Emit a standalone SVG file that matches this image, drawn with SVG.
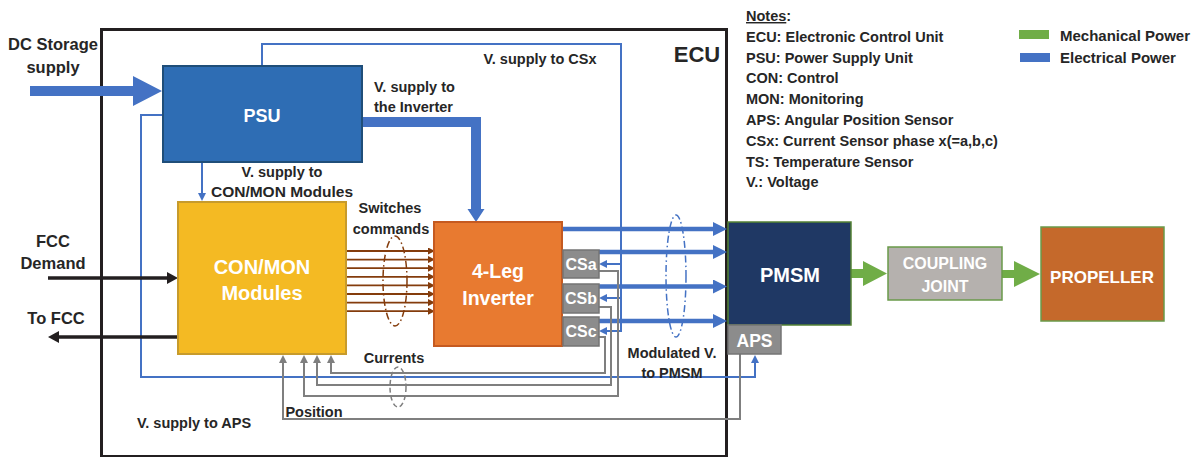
<svg xmlns="http://www.w3.org/2000/svg" width="1200" height="457" viewBox="0 0 1200 457">
<style>
text{font-family:"Liberation Sans",Arial,sans-serif;font-weight:bold;}
.lbl{font-size:14.5px;fill:#262626;}
.note{font-size:14.5px;fill:#262626;}
.big{font-size:16.5px;fill:#262626;}
.wt{fill:#ffffff;text-anchor:middle;}
.mid{text-anchor:middle;}
.eb{fill:none;stroke:#4472C4;stroke-width:2;}
.ebt{fill:none;stroke:#4472C4;stroke-width:4.5;}
.gy{fill:none;stroke:#7F7F7F;stroke-width:2;}
.br{fill:none;stroke:#843C0C;stroke-width:1.8;}
.bk{fill:none;stroke:#231F20;stroke-width:3.5;}
.cs{fill:#8C8C8C;stroke:#747474;stroke-width:1.5;}
</style>
<defs>
<marker id="aBT" markerUnits="userSpaceOnUse" markerWidth="14" markerHeight="14" viewBox="0 0 14 14" refX="7" refY="7" orient="auto"><path d="M0,0 L14,7 L0,14z" fill="#4472C4"/></marker>
<marker id="aB" markerUnits="userSpaceOnUse" markerWidth="8" markerHeight="8" viewBox="0 0 8 8" refX="4" refY="4" orient="auto"><path d="M0,0 L8,4 L0,8z" fill="#4472C4"/></marker>
<marker id="aG" markerUnits="userSpaceOnUse" markerWidth="8" markerHeight="8" viewBox="0 0 8 8" refX="4" refY="4" orient="auto"><path d="M0,0 L8,4 L0,8z" fill="#7F7F7F"/></marker>
<marker id="aR" markerUnits="userSpaceOnUse" markerWidth="7" markerHeight="7" viewBox="0 0 7 7" refX="3" refY="3.5" orient="auto"><path d="M0,0 L7,3.5 L0,7z" fill="#843C0C"/></marker>
<marker id="aK" markerUnits="userSpaceOnUse" markerWidth="11" markerHeight="12" viewBox="0 0 11 12" refX="5" refY="6" orient="auto"><path d="M0,0 L11,6 L0,12z" fill="#231F20"/></marker>
</defs>
<rect width="1200" height="457" fill="#ffffff"/>

<g id="ecu">
<rect x="101.5" y="29.5" width="625" height="427" fill="none" stroke="#231F20" stroke-width="3"/>
<text x="697" y="62" font-size="22" fill="#262626" class="mid">ECU</text>
</g>

<g id="connectors">
<polygon points="30,86 133,86 133,76 162,91 133,106 133,96 30,96" fill="#4472C4"/>
<polygon points="362,117 481,117 481,209 484.5,209 476,222 467.5,209 471,209 471,127 362,127" fill="#4472C4"/>
<path class="eb" d="M262,66 V44 H621 V331 H603" marker-end="url(#aB)"/>
<path class="eb" d="M621,264 H603" marker-end="url(#aB)"/>
<path class="eb" d="M621,298 H603" marker-end="url(#aB)"/>
<path class="eb" d="M163,115 H141 V377 H755 V359" marker-end="url(#aB)"/>
<path class="eb" d="M202,162 V197" marker-end="url(#aB)"/>
<path class="br" d="M346,251 H431" marker-end="url(#aR)"/>
<path class="br" d="M346,259.6 H431" marker-end="url(#aR)"/>
<path class="br" d="M346,268.2 H431" marker-end="url(#aR)"/>
<path class="br" d="M346,276.8 H431" marker-end="url(#aR)"/>
<path class="br" d="M346,285.4 H431" marker-end="url(#aR)"/>
<path class="br" d="M346,294 H431" marker-end="url(#aR)"/>
<path class="br" d="M346,302.6 H431" marker-end="url(#aR)"/>
<path class="br" d="M346,311.2 H431" marker-end="url(#aR)"/>
<ellipse cx="395" cy="281" rx="12" ry="45" fill="none" stroke="#843C0C" stroke-width="1.5" stroke-dasharray="7 3 1.5 3"/>
<path class="ebt" d="M563,229 H720" marker-end="url(#aBT)"/>
<path class="ebt" d="M599,252 H720" marker-end="url(#aBT)"/>
<path class="ebt" d="M599,286.5 H720" marker-end="url(#aBT)"/>
<path class="ebt" d="M599,321 H720" marker-end="url(#aBT)"/>
<ellipse cx="676" cy="276" rx="10" ry="61" fill="none" stroke="#4472C4" stroke-width="1.5" stroke-dasharray="7 3 1.5 3"/>
<path class="gy" d="M599,337 H605 V373 H331 V359" marker-end="url(#aG)"/>
<path class="gy" d="M599,307 H611 V385 H317 V359" marker-end="url(#aG)"/>
<path class="gy" d="M599,271 H618 V396 H304 V359" marker-end="url(#aG)"/>
<ellipse cx="398" cy="387" rx="8" ry="20" fill="none" stroke="#7F7F7F" stroke-width="1.5" stroke-dasharray="5 3"/>
<path class="gy" d="M740,354 V419 H283 V359" marker-end="url(#aG)"/>
<path class="bk" d="M48,278 H172" marker-end="url(#aK)"/>
<path class="bk" d="M177,337 H54" marker-end="url(#aK)"/>
<polygon points="851,269 863,269 863,261 887,273.5 863,286 863,278 851,278" fill="#70AD47"/>
<polygon points="1002,270 1014,270 1014,261 1040,274 1014,287 1014,278 1002,278" fill="#70AD47"/>
</g>

<g id="psu">
<rect x="163" y="66" width="199" height="96" fill="#2E6DB4" stroke="#1F4E79" stroke-width="2"/>
<text x="262" y="121.5" font-size="18" class="wt">PSU</text>
</g>
<g id="conmon">
<rect x="178" y="202" width="168" height="152" fill="#F4BA23" stroke="#C79B2C" stroke-width="2"/>
<text x="262" y="274" font-size="20" class="wt">CON/MON</text>
<text x="262" y="300" font-size="20" class="wt">Modules</text>
</g>
<g id="inverter">
<rect x="434" y="222" width="128" height="124" fill="#E87A30" stroke="#C55A20" stroke-width="2"/>
<text x="498" y="278" font-size="19.5" class="wt">4-Leg</text>
<text x="498" y="305" font-size="19.5" class="wt">Inverter</text>
</g>
<g id="csa">
<rect class="cs" x="563" y="250" width="36" height="28"/>
<text x="581" y="270" font-size="16" class="wt">CSa</text>
</g>
<g id="csb">
<rect class="cs" x="563" y="284" width="36" height="29"/>
<text x="581" y="304" font-size="16" class="wt">CSb</text>
</g>
<g id="csc">
<rect class="cs" x="563" y="317" width="36" height="29"/>
<text x="581" y="337" font-size="16" class="wt">CSc</text>
</g>
<g id="pmsm">
<rect x="728" y="222" width="123" height="103" fill="#1F3864" stroke="#548235" stroke-width="1.5"/>
<text x="790" y="282" font-size="20" class="wt">PMSM</text>
</g>
<g id="aps">
<rect x="728" y="325" width="53" height="29" fill="#8C8C8C" stroke="#747474" stroke-width="1.5"/>
<text x="754.5" y="347" font-size="17.5" class="wt">APS</text>
</g>
<g id="coupling">
<rect x="888" y="247" width="114" height="53" fill="#B5B1AE" stroke="#6A9A4A" stroke-width="1.5"/>
<text x="945" y="269" font-size="16" class="wt">COUPLING</text>
<text x="945" y="292" font-size="16" class="wt">JOINT</text>
</g>
<g id="propeller">
<rect x="1041" y="227" width="123" height="94" fill="#C5692B" stroke="#6A9A4A" stroke-width="1.5"/>
<text x="1102" y="283" font-size="17" class="wt">PROPELLER</text>
</g>

<g id="labels">
<text x="53" y="50" class="big mid">DC Storage</text>
<text x="53" y="73" class="big mid">supply</text>
<text x="53" y="247" class="big mid">FCC</text>
<text x="53" y="269" class="big mid">Demand</text>
<text x="56" y="324" class="big mid">To FCC</text>
<text x="540" y="64" class="lbl mid">V. supply to CSx</text>
<text x="374" y="92" class="lbl">V. supply to</text>
<text x="374" y="112" class="lbl">the Inverter</text>
<text x="282" y="177" class="lbl mid">V. supply to</text>
<text x="282" y="197" class="lbl mid" style="font-size:15.5px">CON/MON Modules</text>
<text x="390" y="213" class="lbl mid">Switches</text>
<text x="391" y="234" class="lbl mid">commands</text>
<text x="394" y="363" class="lbl mid">Currents</text>
<text x="314" y="417" class="lbl mid">Position</text>
<text x="194" y="428" class="lbl mid">V. supply to APS</text>
<text x="672" y="358" class="lbl mid">Modulated V.</text>
<text x="672" y="378" class="lbl mid">to PMSM</text>
</g>

<g id="notes">
<text x="746" y="21" class="note"><tspan text-decoration="underline">Notes</tspan>:</text>
<text x="746" y="41.5" class="note">ECU: Electronic Control Unit</text>
<text x="746" y="62.5" class="note">PSU: Power Supply Unit</text>
<text x="746" y="83" class="note">CON: Control</text>
<text x="746" y="104" class="note">MON: Monitoring</text>
<text x="746" y="124.5" class="note">APS: Angular Position Sensor</text>
<text x="746" y="145.5" class="note">CSx: Current Sensor phase x(=a,b,c)</text>
<text x="746" y="166.5" class="note">TS: Temperature Sensor</text>
<text x="746" y="187" class="note">V.: Voltage</text>
</g>

<g id="legend">
<rect x="1019" y="30" width="30" height="9" fill="#70AD47"/>
<rect x="1020" y="53" width="30" height="9" fill="#4472C4"/>
<text x="1060" y="41" font-size="15" fill="#262626">Mechanical Power</text>
<text x="1060" y="63" font-size="15" fill="#262626">Electrical Power</text>
</g>
</svg>
